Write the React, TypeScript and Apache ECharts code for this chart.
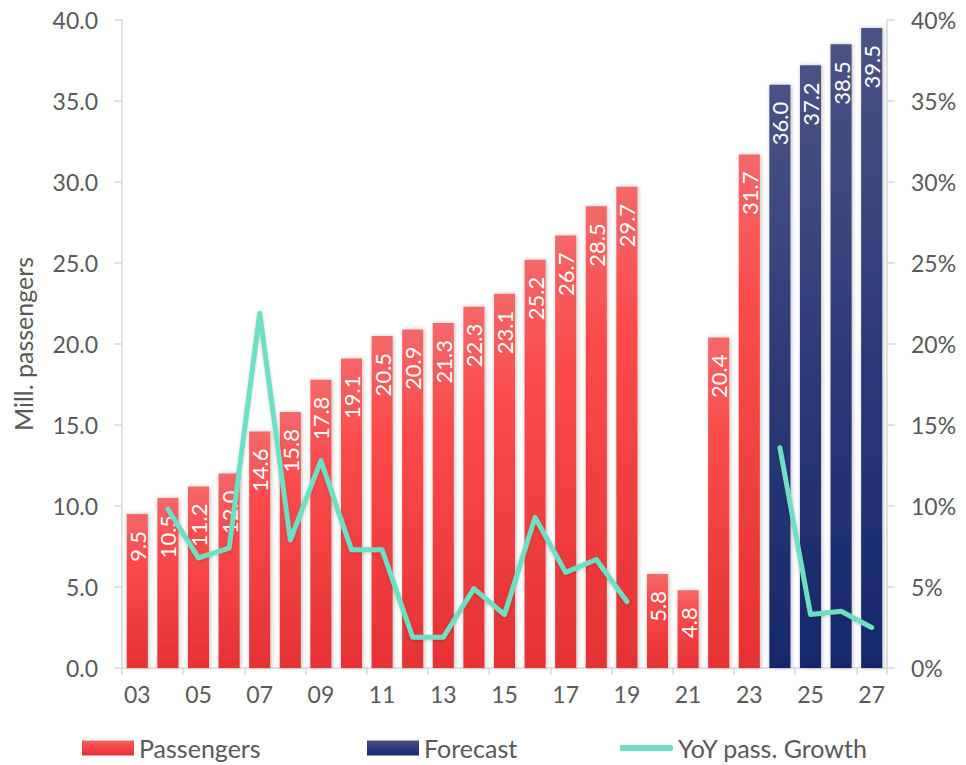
import React, { useEffect, useRef } from "react";
import * as echarts from "echarts";

const years = ["03","04","05","06","07","08","09","10","11","12","13","14","15","16","17","18","19","20","21","22","23","24","25","26","27"];
const passengers: (number | string)[] = [9.5,10.5,11.2,12.0,14.6,15.8,17.8,19.1,20.5,20.9,21.3,22.3,23.1,25.2,26.7,28.5,29.7,5.8,4.8,20.4,31.7,"-","-","-","-"];
const forecast: (number | string)[] = ["-","-","-","-","-","-","-","-","-","-","-","-","-","-","-","-","-","-","-","-","-",36.0,37.2,38.5,39.5];
const growth: (number | string)[] = ["-",9.8,6.8,7.4,21.9,7.9,12.8,7.3,7.3,1.9,1.9,4.9,3.3,9.3,5.9,6.7,4.1,"-","-","-","-",13.6,3.3,3.5,2.5];
const leftTicks = { min: 0, max: 40, interval: 5 };
const rightTicks = { min: 0, max: 40, interval: 5 };

const FONT = "Lato";
const GREY = "#595959";

export default function App() {
  const ref = useRef<HTMLDivElement>(null);
  useEffect(() => {
    if (!ref.current) return;
    const chart = echarts.init(ref.current, null, { renderer: "svg" });
    const redGrad = new echarts.graphic.LinearGradient(0, 0, 0, 1, [
      { offset: 0, color: "#f46868" },
      { offset: 0.3, color: "#fb4a4b" },
      { offset: 1, color: "#e53235" },
    ]);
    const navyGrad = new echarts.graphic.LinearGradient(0, 0, 0, 1, [
      { offset: 0, color: "#4b5384" },
      { offset: 0.5, color: "#2c3a78" },
      { offset: 1, color: "#16286c" },
    ]);
    const label = {
      show: true,
      position: "insideTop" as const,
      rotate: 90,
      align: "right" as const,
      verticalAlign: "middle" as const,
      distance: 17,
      color: "#ffffff",
      fontFamily: FONT,
      fontSize: 22,
      formatter: (p: any) => Number(p.value).toFixed(1),
    };
    const legendText = { color: GREY, fontFamily: FONT, fontSize: 25, lineHeight: 26 };
    const legendBase = { top: 735, padding: 0, itemGap: 6, textStyle: legendText };
    chart.setOption({
      animation: false,
      textStyle: { fontFamily: FONT },
      grid: { left: 122, right: 79, top: 20, bottom: 97 },
      legend: [
        { ...legendBase, data: ["Passengers"], left: 82, itemWidth: 52, itemHeight: 15, icon: "rect" },
        { ...legendBase, data: ["Forecast"], left: 367, itemWidth: 52, itemHeight: 15, icon: "rect" },
        { ...legendBase, data: ["YoY pass. Growth"], left: 620, itemWidth: 53, itemHeight: 6, icon: "roundRect" },
      ],
      xAxis: {
        type: "category",
        data: years,
        boundaryGap: true,
        axisLine: { lineStyle: { color: "#d9d9d9", width: 1.5 } },
        axisTick: { show: true, length: 7, lineStyle: { color: "#d9d9d9", width: 1.5 } },
        axisLabel: { interval: 1, color: GREY, fontFamily: FONT, fontSize: 23, margin: 14 },
      },
      yAxis: [
        {
          type: "value",
          ...leftTicks,
          name: "Mill. passengers",
          nameLocation: "middle",
          nameRotate: 90,
          nameGap: 87,
          nameTextStyle: { color: GREY, fontFamily: FONT, fontSize: 25 },
          axisLine: { show: true, lineStyle: { color: "#d9d9d9", width: 1.5 } },
          axisTick: { show: true, length: 8, lineStyle: { color: "#d9d9d9", width: 1.5 } },
          splitLine: { show: false },
          axisLabel: { color: GREY, fontFamily: FONT, fontSize: 23, margin: 24, formatter: (v: number) => v.toFixed(1) },
        },
        {
          type: "value",
          ...rightTicks,
          position: "right",
          axisLine: { show: true, lineStyle: { color: "#d9d9d9", width: 1.5 } },
          axisTick: { show: true, length: 8, lineStyle: { color: "#d9d9d9", width: 1.5 } },
          splitLine: { show: false },
          axisLabel: { color: GREY, fontFamily: FONT, fontSize: 23, margin: 24, formatter: "{value}%" },
        },
      ],
      series: [
        {
          name: "Passengers",
          type: "bar",
          stack: "p",
          data: passengers,
          barWidth: "69%",
          itemStyle: { color: redGrad, shadowColor: "rgba(0,0,0,0.25)", shadowBlur: 4, shadowOffsetX: 1, shadowOffsetY: 0 },
          label,
        },
        {
          name: "Forecast",
          type: "bar",
          stack: "p",
          data: forecast,
          barWidth: "69%",
          itemStyle: { color: navyGrad, shadowColor: "rgba(0,0,0,0.25)", shadowBlur: 4, shadowOffsetX: 1, shadowOffsetY: 0 },
          label,
        },
        {
          name: "YoY pass. Growth",
          type: "line",
          yAxisIndex: 1,
          data: growth,
          showSymbol: false,
          symbol: "none",
          connectNulls: false,
          lineStyle: { color: "#6ddfc2", width: 5, cap: "round", join: "round", shadowColor: "rgba(0,0,0,0.2)", shadowBlur: 3, shadowOffsetY: 1 },
          itemStyle: { color: "#6ddfc2" },
        },
      ],
    });
    return () => chart.dispose();
  }, []);
  return <div ref={ref} style={{ position: "absolute", left: 0, top: 0, width: 966, height: 765 }} />;
}
